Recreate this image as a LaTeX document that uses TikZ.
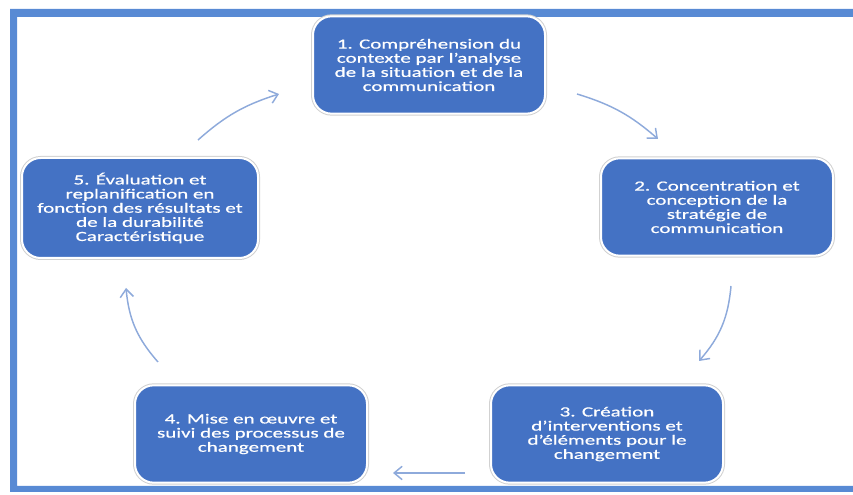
\documentclass[tikz,border=0pt]{standalone}
\usepackage{fontspec}
\setmainfont{Carlito}[FakeStretch=1.5,FakeBold=0.6]
\usetikzlibrary{arrows.meta}
\definecolor{stageblue}{RGB}{68,114,196}
\definecolor{frameblue}{RGB}{88,138,212}
\definecolor{arrowblue}{RGB}{142,170,219}

\begin{document}
\begin{tikzpicture}[x=0.75pt,y=0.75pt,
   stage/.style={rectangle,rounded corners=14pt,fill=stageblue,draw=white,line width=1.5pt,
      preaction={draw=black!18,line width=3pt},
      minimum width=174pt,minimum height=73pt,align=center,text=white,
      font=\fontsize{10.5}{10.6}\selectfont},
   flow/.style={draw=arrowblue,line width=1.1pt,-{Straight Barb[length=6pt,width=10pt]}}]
\useasboundingbox (0,0) rectangle (853,495);
\clip (0,0) rectangle (853,495);
% frame
\fill[frameblue,even odd rule] (10,3) rectangle (870,486) (17,9) rectangle (865,478);
% stages
\node[stage] (s1) at (429,430) {1. Compréhension du\\contexte par l'analyse\\de la situation et de la\\communication};
\node[stage] (s2) at (717,288) {2. Concentration et\\conception de la\\stratégie de\\communication};
\node[stage] (s3) at (607,61) {3. Création\\d'interventions et\\d'éléments pour le\\changement};
\node[stage] (s4) at (251,61) {4. Mise en œuvre et\\suivi des processus de\\changement};
\node[stage,minimum width=177pt,minimum height=75pt] (s5) at (140,287) {5. Évaluation et\\replanification en\\fonction des résultats et\\de la durabilité\\Caractéristique};
% arrows
\coordinate (from12) at (577,401); \coordinate (to12) at (658,356);
\coordinate (from23) at (731,209); \coordinate (to23) at (699,134);
\coordinate (from34) at (465,22);  \coordinate (to34) at (393,22);
\coordinate (from45) at (158,133); \coordinate (to45) at (126,207);
\coordinate (from51) at (198,355); \coordinate (to51) at (279,401);
\draw[flow] (from12) to[bend left=12] (to12);
\draw[flow] (from23) to[bend left=18] (to23);
\draw[flow] (from34) -- (to34);
\draw[flow] (from45) to[bend left=18] (to45);
\draw[flow] (from51) to[bend left=12] (to51);
\end{tikzpicture}
\end{document}
